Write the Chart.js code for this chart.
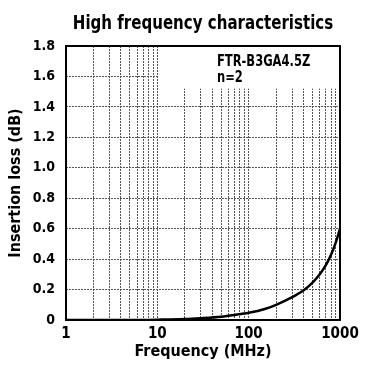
<!DOCTYPE html>
<html>
<head>
<meta charset="utf-8">
<script src="https://cdn.jsdelivr.net/npm/chart.js@4.4.0/dist/chart.umd.min.js"></script>
<style>
html, body { margin: 0; padding: 0; background: #fff; }
#chart_wrap { width: 370px; height: 388px; }
</style>
</head>
<body>
<div id="chart_wrap"><canvas id="chart_il" width="370" height="388"></canvas></div>
<script>

// DATA

var freq_MHz = [1, 2, 5, 10, 20, 30, 50, 70, 100, 150, 200, 300, 400, 500, 600, 700, 800, 900, 1000];
var loss_dB  = [0, 0, 0, 0.002, 0.006, 0.012, 0.022, 0.033, 0.047, 0.072, 0.1, 0.15, 0.195, 0.245, 0.3, 0.36, 0.43, 0.51, 0.6];

var x_ticks = [1, 2, 3, 4, 5, 6, 7, 8, 9, 10, 20, 30, 40, 50, 60, 70, 80, 90, 100, 200, 300, 400, 500, 600, 700, 800, 900, 1000];
var x_labels = [1, 10, 100, 1000];
var y_ticks = [0, 0.2, 0.4, 0.6, 0.8, 1.0, 1.2, 1.4, 1.6, 1.8];

var title_text = 'High frequency characteristics';
var note_lines = ['FTR-B3GA4.5Z', 'n=2'];

var FONT = "'Liberation Sans Narrow', 'DejaVu Sans Condensed', 'Roboto Condensed', 'Liberation Sans', sans-serif";

// PLUGINS

// narrow text, squeezed a bit to look like the condensed face of the original
function squeezedText(ctx, txt, x, y, sx) {
    ctx.save();
    ctx.translate(x, y);
    ctx.scale(sx, 1);
    ctx.fillText(txt, 0, 0);
    ctx.restore();
}

var titleAbove = {
    id: 'titleAbove',
    afterDraw(chart) {
        let ctx = chart.ctx;
        let a = chart.chartArea;
        ctx.save();
        ctx.font = 'bold 19px ' + FONT;
        ctx.fillStyle = '#000';
        ctx.textAlign = 'center';
        ctx.textBaseline = 'middle';
        squeezedText(ctx, title_text, (a.left + a.right) / 2, a.top / 2 + 1, 0.88);
        ctx.restore();
    }
};

var noteBox = {
    id: 'noteBox',
    beforeDatasetsDraw(chart) {
        let ctx = chart.ctx;
        let a = chart.chartArea;
        let sx = chart.scales.x;
        let sy = chart.scales.y;
        let x0 = sx.getPixelForValue(10) + 1;
        let y1 = sy.getPixelForValue(1.52);
        ctx.save();
        ctx.fillStyle = '#fff';
        ctx.fillRect(x0, a.top, a.right - x0, y1 - a.top);
        ctx.font = 'bold 16px ' + FONT;
        ctx.fillStyle = '#000';
        ctx.textAlign = 'left';
        ctx.textBaseline = 'alphabetic';
        let tx = sx.getPixelForValue(45);
        squeezedText(ctx, note_lines[0], tx, a.top + 20, 0.8);
        squeezedText(ctx, note_lines[1], tx, a.top + 36, 0.8);
        ctx.restore();
    }
};

var frame = {
    id: 'frame',
    afterDatasetsDraw(chart) {
        let ctx = chart.ctx;
        let a = chart.chartArea;
        ctx.save();
        ctx.strokeStyle = '#000';
        ctx.lineWidth = 2;
        ctx.strokeRect(a.left, a.top, a.right - a.left, a.bottom - a.top);
        ctx.restore();
    }
};

// CHART

function drawChart_il() {

    let points = [];
    for (let i = 0; i < freq_MHz.length; i++) {
        points.push({x: freq_MHz[i], y: loss_dB[i]});
    }

    new Chart(document.getElementById('chart_il').getContext('2d'), {
        type: 'line',
        data: {
            datasets: [
                {
                    label: 'Insertion loss',
                    data: points,
                    borderColor: '#000',
                    borderWidth: 2.5,
                    pointRadius: 0,
                    cubicInterpolationMode: 'monotone',
                    fill: false,
                }
            ]
        },
        options: {
            responsive: false,
            animation: false,
            layout: { padding: { left: 0, right: 30, top: 46, bottom: 0 } },
            plugins: {
                legend: { display: false },
                tooltip: { enabled: false }
            },
            scales: {
                x: {
                    type: 'logarithmic',
                    min: 1,
                    max: 1000,
                    afterBuildTicks: (s) => { s.ticks = x_ticks.map(v => ({value: v})); },
                    afterFit: (s) => { s.height = 68; },
                    ticks: {
                        autoSkip: false,
                        maxRotation: 0,
                        padding: 5,
                        color: '#000',
                        font: { family: FONT, size: 15, weight: 'bold' },
                        callback: (v) => x_labels.includes(v) ? String(v) : ''
                    },
                    grid: { color: '#555', lineWidth: 1, drawTicks: false },
                    border: { display: false, dash: [2, 1] },
                    title: {
                        display: true,
                        text: 'Frequency (MHz)',
                        color: '#000',
                        font: { family: FONT, size: 16, weight: 'bold' },
                        padding: { top: 0, bottom: 27 }
                    }
                },
                y: {
                    min: 0,
                    max: 1.8,
                    afterBuildTicks: (s) => { s.ticks = y_ticks.map(v => ({value: v})); },
                    afterFit: (s) => { s.width = 66; },
                    ticks: {
                        padding: 11,
                        color: '#000',
                        font: { family: FONT, size: 14, weight: 'bold' },
                        callback: (v) => v === 0 ? '0' : v.toFixed(1)
                    },
                    grid: { color: '#555', lineWidth: 1, drawTicks: false },
                    border: { display: false, dash: [2, 1] },
                    title: {
                        display: true,
                        text: 'Insertion loss (dB)',
                        color: '#000',
                        font: { family: FONT, size: 16, weight: 'bold' },
                        padding: { top: 6, bottom: 0 }
                    }
                }
            }
        },
        plugins: [noteBox, frame, titleAbove]
    });
}

drawChart_il();

</script>
</body>
</html>
